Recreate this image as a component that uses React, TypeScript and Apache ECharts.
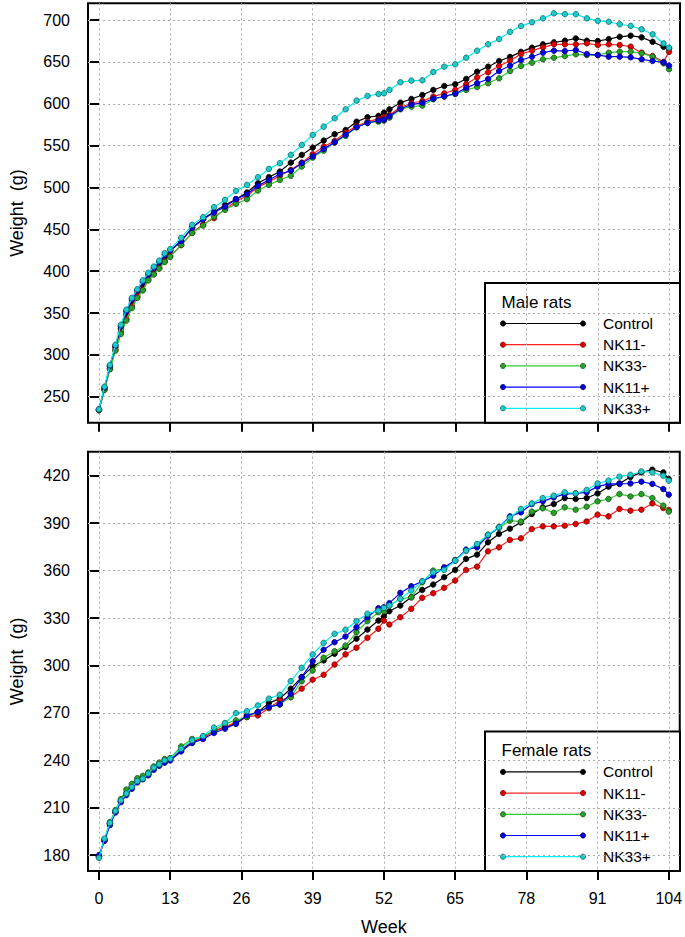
import React, { useEffect, useRef } from "react";
import * as echarts from "echarts";

const FONT = "'Liberation Sans', Arial, Helvetica, sans-serif";

const weeks = [
  0, 1, 2, 3, 4, 5, 6, 7, 8, 9, 10, 11, 12, 13,
  15, 17, 19, 21, 23, 25, 27, 29, 31, 33, 35, 37, 39, 41, 43, 45, 47, 49, 51,
  52, 53, 55, 57, 59, 61, 63, 65, 67, 69, 71, 73, 75, 77, 79, 81, 83, 85, 87,
  89, 91, 93, 95, 97, 99, 101, 103, 104,
];

const seriesNames = ["Control", "NK11-", "NK33-", "NK11+", "NK33+"];
const lineColors = ["#000000", "#ff2020", "#2ecc2e", "#0000ff", "#00f0f0"];
const fillColors = ["#000000", "#e00000", "#2aa02a", "#0000e0", "#20caca"];
const edgeColors = ["#000000", "#7a0000", "#145214", "#00006e", "#006a6a"];

const xTicks = [0, 13, 26, 39, 52, 65, 78, 91, 104];
const maleTicks = [250, 300, 350, 400, 450, 500, 550, 600, 650, 700];
const femaleTicks = [180, 210, 240, 270, 300, 330, 360, 390, 420];

// Male rats
const maleControl = [
  234, 260, 286, 309, 331, 348, 362, 373.5, 383, 393, 401, 408, 416, 424.5,
  435.4, 452.2, 462.5, 471, 479, 486, 494, 505, 512.3, 519,
  529.7, 538.9, 547.6, 556, 563.6, 568.7, 578.6, 583.9, 585.5, 589.4, 593.4, 601.3, 605.7, 610.5, 616.5, 621.2, 623.3, 629.6, 638.3,
  644.3, 651, 656, 662, 667, 671, 673.4, 675.3, 678, 675.3, 675, 677.3, 680, 681.3, 679.3, 674, 668, 666,
];
const maleNK11m = [
  234, 258.5, 283, 306, 327, 343, 358, 370, 378, 390, 397, 404, 412, 418,
  431, 446, 456, 463.4, 474.1, 483.2, 490, 500.4, 507, 513.8,
  521, 529.7, 539.7, 548.8, 555.6, 565.5, 573.5, 578.6, 581.9, 583.9, 586.6, 595.8, 600.6, 603.3, 608.5, 612.5, 616.5, 623.3, 631.6,
  637.6, 645.1, 651.4, 659.4, 663.4, 667.4, 671, 671, 671, 672.2, 670.2, 671, 670.2, 668.2, 661, 657, 650, 662,
];
const maleNK33m = [
  234, 258, 283, 305, 325, 341, 356, 368, 377, 389, 396, 403, 411, 417,
  431.5, 445.5, 454.5, 465.3, 473.3, 480.4, 486, 496.3, 503.1, 509,
  514, 525, 535.7, 544, 553.6, 561.6, 572, 577.5, 578.6, 579.8, 583.4, 593.4, 596.5, 597.7, 605.4, 608.5, 611.7, 616.5, 620,
  624.5, 630.4, 639.1, 645.1, 649.1, 653.1, 655, 657, 659.1, 658.2, 658.2, 661, 662.2, 662.2, 660.3, 656.2, 648.3, 641.2,
];
const maleNK11p = [
  235, 261, 287, 311, 334, 352, 366, 377, 387, 396, 403.5, 411, 419.5, 425,
  436, 452, 462, 470, 477, 486, 492, 501.9, 509, 516.2,
  520, 529, 537, 546, 554, 563, 572, 577, 580, 581, 585, 594, 599, 601, 606, 609, 612, 619, 624.5,
  629.6, 639.1, 645.5, 652.3, 656.2, 661, 663.4, 663, 664.2, 659.4, 658.2, 656.2, 656.2, 655.5, 653.1, 651.1, 649.5, 645.5,
];
const maleNK33p = [
  235, 262, 288, 312, 336, 354, 368, 378.5, 389, 398, 405.5, 412.6, 421.5, 426.4,
  439.9, 455.4, 464.5, 476.5, 485.2, 495.9, 503.1, 512.3, 522.2, 529,
  538.9, 550.8, 562.8, 572.7, 582.7, 593.4, 603.7, 609.3, 611.7, 612.5, 616.5, 625.7, 627.6, 628, 638, 644.3, 647.1, 655, 663.4,
  671, 677.3, 686, 692.8, 697.3, 702, 708, 707, 707, 702, 699, 698, 695, 693, 689, 683, 672, 667,
];

// Female rats
const femaleControl = [
  179, 189.5, 200, 207.5, 214, 219, 223, 227, 228.5, 231, 235, 237, 239.5, 240.5, 246.5, 251.5, 254.5, 258.5,
  261, 263.2, 267.8, 270.5, 276.2, 279, 285.3, 292.6, 299.4, 303.2, 307.4, 311.6, 316.9, 322.7,
  328.4, 331, 334.3, 337.9, 343.1, 347.8, 351.2, 355.8, 360.4, 367.4, 370.1, 377.9, 383.2,
  386.5, 390.5, 395.8, 400, 402.1, 405.9, 405.3, 405.9, 408.8, 413.1, 415.1, 419.2, 422.1, 423.8, 422.1, 417.9,
];
const femaleNK11m = [
  179, 189.5, 200, 207.5, 214.5, 219.5, 223.5, 227, 229, 231.5, 235.5, 237.5, 240, 241, 247, 252, 254.5, 258.5,
  261, 264.2, 267.4, 268.4, 273, 277.9, 280, 285.3, 291, 294.1, 300.6, 307, 311.2, 317.5,
  323.2, 328.4, 325.9, 330.5, 335.8, 342.8, 345.7, 349.1, 353.7, 360.4, 362.5, 372.2, 374.7,
  379.4, 380.4, 386.3, 388, 388, 388.4, 389.5, 391.1, 395.4, 394.3, 399, 397.9, 398.5, 402.5, 399.6, 398.3,
];
const femaleNK33m = [
  179, 190, 201, 208.5, 215.5, 221.5, 225.1, 228.7, 230.2, 232.3, 236.1, 238.6, 240.8, 241.4, 248.8, 253.5, 255.1, 258.9,
  263.2, 265.3, 267.4, 270.5, 273.7, 275.4, 280, 290, 296.8, 304.9, 309, 312.6, 321, 328,
  333.7, 334.3, 337.9, 342.1, 343.1, 352.6, 360, 361.1, 366.8, 372.6, 375.8, 382.7, 387,
  391.6, 391, 397.3, 399.4, 396.5, 400, 398.5, 400.4, 403.8, 405.3, 408.4, 406.9, 408.4, 405.9, 401.1, 397.3,
];
const femaleNK11p = [
  180, 189, 199, 207, 213.5, 218, 222, 226, 228, 230.5, 234, 236.5, 238.5, 239.9, 245.6, 250.9, 253.5, 257.3,
  260, 263.2, 268.4, 270.5, 273.7, 275.4, 282.1, 292.6, 302.7, 309.9, 314.7, 318.3, 324.2, 330.5,
  336.2, 336.8, 339.4, 345.9, 350.1, 353.2, 356.8, 362.1, 366.3, 373.3, 374.7, 382.1, 387.4,
  394.3, 396.8, 402.1, 403.8, 406.3, 408.4, 408.8, 409.5, 413.1, 414.8, 414.8, 415.1, 416.2, 414.8, 411.6, 408,
];
const femaleNK33p = [
  178.3, 190.5, 200.4, 208, 214.7, 219, 223.1, 226.9, 228.4, 231.6, 235.4, 237.5, 240, 241.1, 247.4, 252.6, 255.3, 260.7,
  263.6, 269.9, 271.1, 274.7, 279, 281.5, 290.1, 298.5, 307, 314.3, 320, 322.6, 328, 332.7,
  334.7, 336.4, 337.9, 342.1, 347.4, 353.2, 358.9, 360.4, 366.3, 372.6, 376.9, 382.7, 387.4,
  393.6, 399, 402.5, 405.9, 407.4, 409.5, 408.8, 411, 415.1, 416.9, 419.4, 420.6, 422.7, 422.1, 420, 416.9,
];

const maleData = [maleControl, maleNK11m, maleNK33m, maleNK11p, maleNK33p];
const femaleData = [femaleControl, femaleNK11m, femaleNK33m, femaleNK11p, femaleNK33p];

const GRID_LEFT = 80;
const GRID_W = 600;
const GRID_H = 419.4;
const TOP1 = 3.3;
const TOP2 = 451.7;

function makeX(gridIndex: number, showLabels: boolean) {
  return {
    type: "value",
    gridIndex,
    min: -2,
    max: 106,
    axisLine: { show: false },
    axisTick: {
      show: true,
      length: 9,
      lineStyle: { color: "#000", width: 2 },
      customValues: xTicks,
    },
    axisLabel: {
      show: showLabels,
      customValues: xTicks,
      fontSize: 16,
      color: "#000",
      margin: 19,
      fontFamily: FONT,
    },
    splitLine: { show: true, lineStyle: { color: "#aaaaaa", type: [2, 3], width: 1 } },
    name: showLabels ? "Week" : "",
    nameLocation: "middle",
    nameGap: 47,
    nameTextStyle: { fontSize: 18, color: "#000", fontFamily: FONT },
  };
}

function makeY(gridIndex: number, min: number, max: number, ticks: number[]) {
  return {
    type: "value",
    gridIndex,
    min,
    max,
    axisLine: { show: false },
    axisTick: {
      show: true,
      length: 9,
      lineStyle: { color: "#000", width: 2 },
      customValues: ticks,
    },
    axisLabel: {
      customValues: ticks,
      fontSize: 16,
      color: "#000",
      margin: 18,
      fontFamily: FONT,
    },
    splitLine: { show: true, lineStyle: { color: "#aaaaaa", type: [2, 3], width: 1 } },
    name: "Weight  (g)",
    nameLocation: "middle",
    nameRotate: 90,
    nameGap: 62,
    nameTextStyle: { fontSize: 18, color: "#000", fontFamily: FONT },
  };
}

function makeSeries(values: number[][], gridIndex: number) {
  return values.map((vals, k) => ({
    type: "line",
    name: seriesNames[k],
    xAxisIndex: gridIndex,
    yAxisIndex: gridIndex,
    data: weeks.map((w, i) => [w, vals[i]]),
    symbol: "circle",
    symbolSize: 5.5,
    showSymbol: true,
    lineStyle: { color: lineColors[k], width: 1.2 },
    itemStyle: { color: fillColors[k], borderColor: edgeColors[k], borderWidth: 0.8 },
    emphasis: { disabled: true },
    z: 2 + k,
  }));
}

function makeLegend(title: string, boxTop: number) {
  const boxLeft = 485;
  const boxW = 195;
  const boxH = 139.7;
  const children: any[] = [
    {
      type: "rect",
      shape: { x: boxLeft, y: boxTop, width: boxW, height: boxH },
      style: { fill: "#fff", stroke: "#000", lineWidth: 2 },
    },
    {
      type: "text",
      x: boxLeft + 16.5,
      y: boxTop + 19,
      style: {
        text: title,
        fontSize: 17,
        fontFamily: FONT,
        fill: "#000",
        verticalAlign: "middle",
        textAlign: "left",
      },
    },
  ];
  seriesNames.forEach((name, k) => {
    const cy = boxTop + 40.5 + k * 21.2;
    children.push({
      type: "line",
      shape: { x1: boxLeft + 18, y1: cy, x2: boxLeft + 98, y2: cy },
      style: { stroke: lineColors[k], lineWidth: 1.2 },
    });
    [boxLeft + 18, boxLeft + 98].forEach((cx) => {
      children.push({
        type: "circle",
        shape: { cx, cy, r: 2.6 },
        style: { fill: fillColors[k], stroke: edgeColors[k], lineWidth: 0.8 },
      });
    });
    children.push({
      type: "text",
      x: boxLeft + 118,
      y: cy,
      style: {
        text: name,
        fontSize: 15.5,
        fontFamily: FONT,
        fill: "#000",
        verticalAlign: "middle",
        textAlign: "left",
      },
    });
  });
  return { type: "group", z: 100, children };
}

export default function App() {
  const ref = useRef<HTMLDivElement>(null);
  useEffect(() => {
    if (!ref.current) return;
    const chart = echarts.init(ref.current, undefined, { renderer: "svg" });
    const option: any = {
      animation: false,
      backgroundColor: "#fff",
      textStyle: { fontFamily: FONT },
      grid: [
        { left: GRID_LEFT, top: TOP1, width: GRID_W, height: GRID_H, show: true, borderColor: "#000", borderWidth: 2, backgroundColor: "transparent", containLabel: false },
        { left: GRID_LEFT, top: TOP2, width: GRID_W, height: GRID_H, show: true, borderColor: "#000", borderWidth: 2, backgroundColor: "transparent", containLabel: false },
      ],
      xAxis: [makeX(0, false), makeX(1, true)],
      yAxis: [makeY(0, 219, 720, maleTicks), makeY(1, 170, 435.2, femaleTicks)],
      series: [...makeSeries(maleData, 0), ...makeSeries(femaleData, 1)],
      graphic: [
        makeLegend("Male rats", TOP1 + GRID_H - 139.7),
        makeLegend("Female rats", TOP2 + GRID_H - 139.7),
      ],
    };
    chart.setOption(option);
    return () => chart.dispose();
  }, []);
  return (
    <div
      ref={ref}
      style={{ position: "absolute", left: 0, top: 0, width: 685, height: 937, background: "#fff" }}
    />
  );
}
